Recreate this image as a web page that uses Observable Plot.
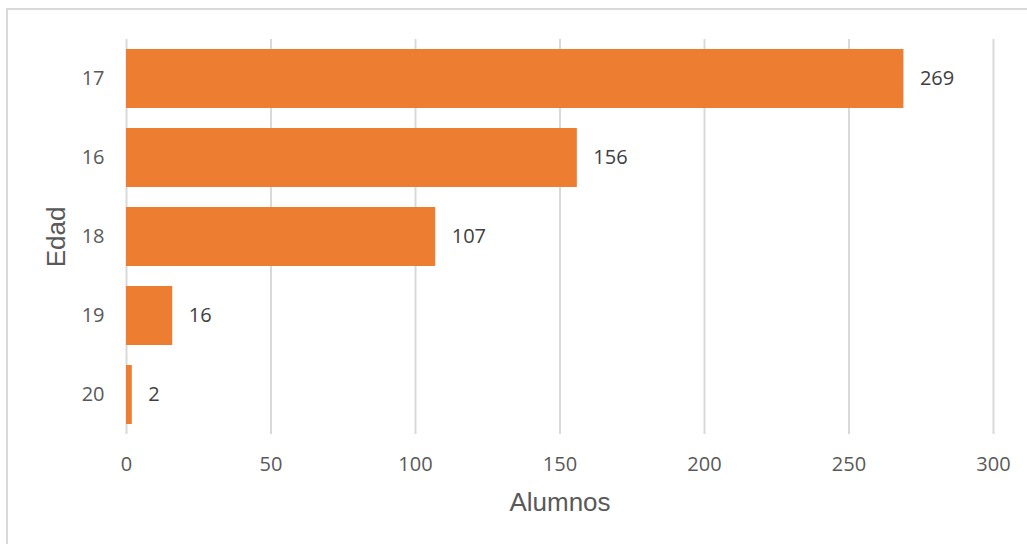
<!DOCTYPE html>
<html>
<head>
<meta charset="utf-8">
<script src="https://cdn.jsdelivr.net/npm/d3@7"></script>
<script src="https://cdn.jsdelivr.net/npm/@observablehq/plot@0.6"></script>
<style>
  html, body { margin: 0; padding: 0; background: #fff; overflow: hidden; }
  #frame { position: absolute; left: 6px; top: 8px; width: 1200px; height: 700px;
           border-left: 2px solid #d9d9d9; border-top: 2px solid #d9d9d9; }
  #chart { position: absolute; left: 0; top: 0; }
</style>
</head>
<body>
<div id="frame"></div>
<div id="chart"></div>
<script>
// Students by age (ages ordered by count, largest first)
const edades = ["17", "16", "18", "19", "20"];
const alumnos = [269, 156, 107, 16, 2];
const xTicks = [0, 50, 100, 150, 200, 250, 300];

const data = edades.map((e, i) => ({edad: e, alumnos: alumnos[i]}));

const tickFont = "'Open Sans', 'Noto Sans', sans-serif";
const titleFont = "'Liberation Sans', Arial, sans-serif";

const chart = Plot.plot({
  width: 1027,
  height: 544,
  marginLeft: 126,
  marginRight: 34,
  marginTop: 39,
  marginBottom: 110,
  style: {background: "transparent", fontFamily: tickFont},
  x: {domain: [0, 300]},
  y: {domain: edades, paddingInner: 0.25, paddingOuter: 0.125},
  marks: [
    Plot.gridX(xTicks, {stroke: "#d9d9d9", strokeOpacity: 1, strokeWidth: 2}),
    Plot.barX(data, {x: "alumnos", y: "edad", fill: "#ED7D31"}),
    Plot.text(data, {x: "alumnos", y: "edad", text: d => String(d.alumnos),
      textAnchor: "start", dx: 16, fill: "#404040", fontSize: 20, fontFamily: tickFont}),
    Plot.axisX({ticks: xTicks, tickSize: 0, tickPadding: 22, label: null,
      fontSize: 20, color: "#595959", fontFamily: tickFont}),
    Plot.axisY({tickSize: 0, tickPadding: 22, label: null,
      fontSize: 20, color: "#595959", fontFamily: tickFont}),
    Plot.text(["Alumnos"], {frameAnchor: "bottom", dy: 68, text: d => d,
      textAnchor: "middle", lineAnchor: "middle",
      fontSize: 26, fill: "#595959", fontFamily: titleFont}),
    Plot.text(["Edad"], {frameAnchor: "left", dx: -70, rotate: -90, text: d => d,
      textAnchor: "middle", lineAnchor: "middle",
      fontSize: 26, fill: "#595959", fontFamily: titleFont})
  ]
});

document.getElementById("chart").appendChild(chart);
</script>
</body>
</html>
